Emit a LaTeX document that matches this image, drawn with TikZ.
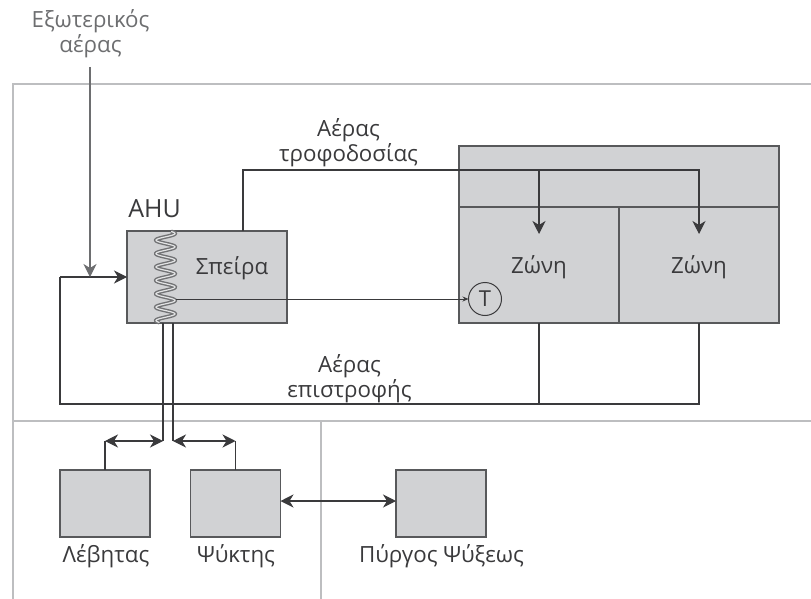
\documentclass[tikz,border=0pt]{standalone}
\usepackage{fontspec}
\setmainfont{Open Sans}
\usetikzlibrary{arrows.meta}
\definecolor{boxfill}{HTML}{D1D2D4}
\definecolor{boxline}{HTML}{58595B}
\definecolor{pipe}{HTML}{3A3A3C}
\definecolor{frameline}{HTML}{BDBEC0}
\definecolor{airline}{HTML}{6D6E70}
\tikzset{
  graybox/.style={draw=boxline, fill=boxfill, line width=1.5pt, inner sep=0pt, outer sep=0pt},
  txt/.style={inner sep=0pt, align=center, text=pipe, font=\fontsize{22.3}{25}\selectfont},
  pipeline/.style={draw=pipe, line width=1.05pt},
  arrowline/.style={pipeline, -{Stealth[length=13pt,width=13pt,inset=4pt]}},
  dblarrow/.style={pipeline, {Stealth[length=13pt,width=13pt,inset=4pt]}-{Stealth[length=13pt,width=13pt,inset=4pt]}},
  frameln/.style={draw=frameline, line width=1.2pt},
}
\begin{document}
\begin{tikzpicture}[x=1pt, y=-1pt]
\useasboundingbox (0,0) rectangle (811,599);
\draw[frameln] (811,84) -- (13,84) -- (13,599);
\draw[frameln] (13,421) -- (811,421);
\draw[frameln] (321,421) -- (321,599);
\node[graybox, minimum width=160pt, minimum height=92pt] (ahu) at (207,277) {};
\node[graybox, minimum width=320pt, minimum height=61pt] (plenum) at (619,176.5) {};
\node[graybox, minimum width=160pt, minimum height=116pt] (zoneA) at (539,265) {};
\node[graybox, minimum width=160pt, minimum height=116pt] (zoneB) at (699,265) {};
\node[graybox, minimum width=90pt, minimum height=67pt] (boiler) at (105,503.5) {};
\node[graybox, minimum width=90pt, minimum height=67pt] (chiller) at (235.5,503.5) {};
\node[graybox, minimum width=90pt, minimum height=67pt] (tower) at (441,503.5) {};
\node[txt, anchor=base] (zoneAlabel) at (539,273) {Ζώνη};
\node[txt, anchor=base] (zoneBlabel) at (699,273) {Ζώνη};
\node[circle, draw=pipe, line width=1pt, minimum size=33pt, inner sep=0pt, outer sep=0pt, text=pipe, font=\fontsize{22}{25}\selectfont] (sensor) at (485,299) {T};
\node[txt, text=airline] (outside) at (90.5,34) {Εξωτερικός\\αέρας};
\node[txt, anchor=base, font=\fontsize{25}{25}\selectfont] (ahulabel) at (154.5,217) {AHU};
\node[txt, anchor=base] (coillabel) at (232,274) {Σπείρα};
\node[txt] (supplylabel) at (348.5,143) {Αέρας\\τροφοδοσίας};
\node[txt] (returnlabel) at (349.5,379) {Αέρας\\επιστροφής};
\node[txt, anchor=base] (boilerlabel) at (106,562) {Λέβητας};
\node[txt, anchor=base] (chillerlabel) at (236,562) {Ψύκτης};
\node[txt, anchor=base] (towerlabel) at (441.5,562) {Πύργος Ψύξεως};
\coordinate (supplyup) at (243,170);
\coordinate (tipA) at (539,234);
\coordinate (tipB) at (699,234);
\coordinate (returnlow) at (60,404);
\coordinate (returnin) at (60,277);
\coordinate (airstart) at (90,67);
\coordinate (coilout) at (176,299);
\coordinate (pipeL) at (163,441);
\coordinate (pipeR) at (173,441);
\coordinate (pipeLtop) at (163,323);
\coordinate (pipeRtop) at (173,323);
\coordinate (boilerup) at (105,441);
\coordinate (chillerup) at (235.5,441);
\coordinate (towerrow) at (281,501);
\draw[pipeline] (ahu.north -| supplyup) -- (supplyup) -| (zoneB.north);
\draw[arrowline] (zoneB.north) -- (tipB);
\draw[arrowline] (supplyup -| zoneA) -- (tipA);
\draw[pipeline] (zoneB.south) |- (returnlow) -- (returnin);
\draw[pipeline] (zoneA.south) -- (zoneA |- returnlow);
\draw[arrowline] (returnin) -- (ahu.west |- returnin);
\draw[line width=1.1pt, draw=airline, -{Stealth[length=13pt,width=13pt,inset=4pt]}] (airstart) -- (airstart |- returnin);
\draw[line width=4pt, draw=boxline!85] plot[domain=0:91, samples=180, smooth] ({165.5+9.5*cos((\x-2)/13.4*360)}, {231.5+\x});
\draw[line width=1.2pt, draw=boxfill!60] plot[domain=0:91, samples=180, smooth] ({165.5+9.5*cos((\x-2)/13.4*360)}, {231.5+\x});
\draw[pipeline, line width=0.9pt, -{Stealth[length=6pt,width=5pt]}] (coilout) -- (sensor.west);
\draw[pipeline] (pipeLtop) -- (pipeL);
\draw[pipeline] (pipeRtop) -- (pipeR);
\draw[dblarrow] (boilerup) -- (pipeL);
\draw[dblarrow] (pipeR) -- (chillerup);
\draw[pipeline] (boilerup) -- (boiler.north);
\draw[pipeline] (chillerup) -- (chiller.north);
\draw[dblarrow] (chiller.east |- towerrow) -- (tower.west |- towerrow);
\end{tikzpicture}
\end{document}
